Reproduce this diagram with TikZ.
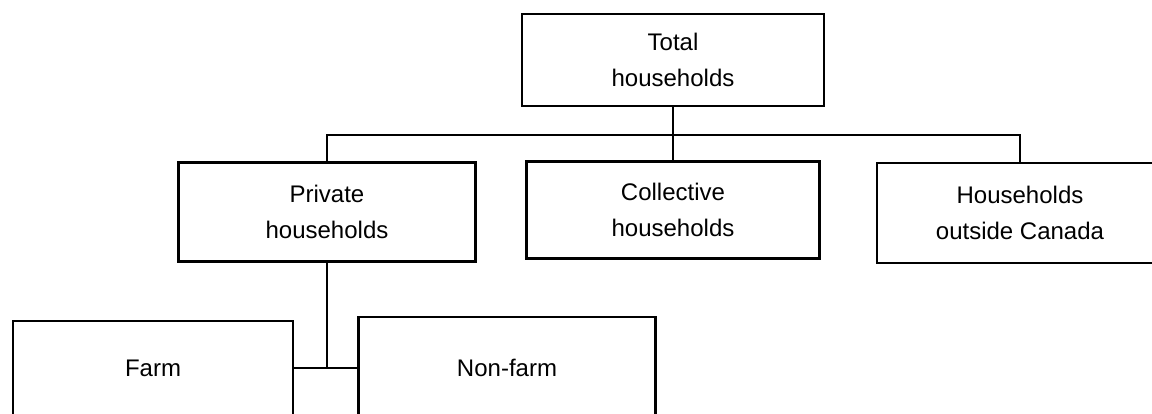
\documentclass[tikz,border=0pt]{standalone}
\usepackage{fontspec}
\setmainfont{Liberation Sans}
\usetikzlibrary{positioning}

\begin{document}
\begin{tikzpicture}[x=1pt,y=-1pt,
    box/.style={draw, line width=2.6pt, align=center, inner sep=0pt,
      font=\fontsize{24}{36}\selectfont},
    link/.style={line width=2.2pt}]
    \useasboundingbox (0,0) rectangle (1152,414);
    \clip (0,0) rectangle (1152,414);
    % top level
    \node[box, minimum width=302pt, minimum height=92pt] (total) at (673,60) {Total\\households};
    % second level
    \node[box, minimum width=297pt, minimum height=99pt] (private) at (327,212) {Private\\households};
    \node[box, minimum width=293pt, minimum height=97pt] (collective) at (673,210) {Collective\\households};
    \node[box, minimum width=286pt, minimum height=100pt] (outside) at (1020,213) {Households\\outside Canada};
    % third level
    \node[box, minimum width=280pt, minimum height=94pt] (farm) at (153,368) {Farm};
    \node[box, minimum width=297pt, minimum height=102pt] (nonfarm) at (507,368) {Non-farm};
    %
    \coordinate (bus) at (673,135);
    \draw[link] (total.south) -- (bus);
    \draw[link] (private.north) |- (bus) -| (outside.north);
    \draw[link] (bus) -- (collective.north);
    %
    \draw[link] (private.south) -- (private.south |- farm.east);
    \draw[link] (farm.east) -- (nonfarm.west);
\end{tikzpicture}
\end{document}
